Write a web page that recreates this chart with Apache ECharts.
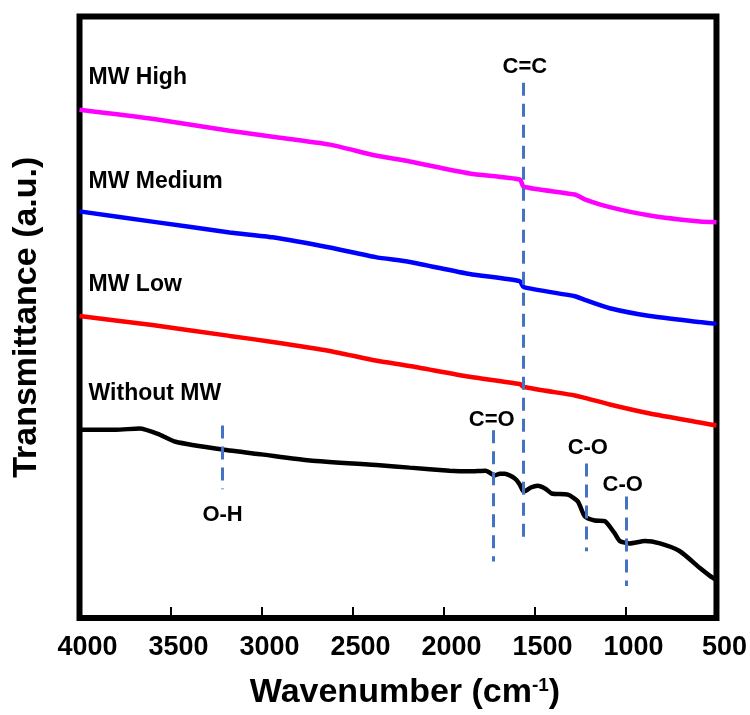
<!DOCTYPE html>
<html>
<head>
<meta charset="utf-8">
<script src="https://cdn.jsdelivr.net/npm/echarts@6/dist/echarts.min.js"></script>
<style>
  html, body { margin: 0; padding: 0; background: #fff; }
  #chart { width: 750px; height: 715px; }
</style>
</head>
<body>
<div id="chart"></div>
<script>
// wavenumber grid (cm-1) shared by the three MW spectra
const colorWn = [4000, 3600, 3175, 2939, 2625, 2373, 2186, 1856, 1581, 1559, 1278, 1224, 1086, 866, 591, 500];
const mwHigh = [84.5, 83.0, 81.0, 80.0, 78.7, 76.9, 75.9, 73.9, 72.9, 71.7, 70.4, 69.6, 68.3, 66.9, 65.9, 65.8];
const mwMedium = [67.6, 65.9, 64.1, 63.3, 61.6, 60.0, 59.2, 57.2, 56.0, 55.0, 53.5, 52.9, 51.5, 50.2, 49.2, 48.9];
const mwLow = [50.2, 48.7, 46.9, 45.9, 44.4, 42.8, 41.9, 40.1, 38.9, 38.4, 37.0, 36.6, 35.5, 34.0, 32.5, 32.0];

// spectrum without MW
const bareWn = [4000, 3800, 3670, 3560, 3472, 3214, 3000, 2735, 2351, 2186, 1966, 1856, 1768, 1718, 1690, 1663, 1608, 1581, 1559, 1520, 1482, 1440, 1405, 1317, 1262, 1224, 1169, 1114, 1060, 1031, 976, 894, 811, 701, 591, 536, 500];
const withoutMw = [31.3, 31.3, 31.5, 30.5, 29.3, 28.0, 27.2, 26.2, 25.4, 25.0, 24.5, 24.4, 24.5, 23.7, 24.0, 24.0, 23.2, 22.2, 21.0, 21.7, 22.0, 21.5, 20.7, 20.5, 19.4, 16.9, 16.2, 16.1, 14.1, 12.8, 12.4, 12.8, 12.4, 11.1, 8.3, 7.0, 6.3];

// band assignments (dashed guides)
const bandNames = ['O-H', 'C=O', 'C=C', 'C-O', 'C-O'];
const bandWn = [3214, 1729, 1559, 1218, 998];
const bandTop = [32.0, 31.2, 89.0, 25.7, 20.2];
const bandBottom = [21.4, 9.4, 12.8, 11.1, 5.3];
const bandLabelWn = [3214, 1735, 1553, 1207, 1015];
const bandLabelT = [17.1, 33.0, 91.6, 28.3, 22.2];

// curve names written inside the plot
const seriesNames = ['MW High', 'MW Medium', 'MW Low', 'Without MW'];
const nameLabelWn = [3950, 3950, 3950, 3950];
const nameLabelT = [89.8, 72.6, 55.5, 37.3];

const xTicks = [500, 4000, 500]; // min, max, interval

const font = 'Arial, "Liberation Sans", sans-serif';
const zip = (xs, ys) => xs.map((x, i) => [x, ys[i]]);

const chart = echarts.init(document.getElementById('chart'));

function lineSeries(name, data, color) {
    return {
        name: name,
        type: 'line',
        data: data,
        showSymbol: false,
        smooth: 0.2,
        lineStyle: { color: color, width: 4.5 },
        z: 3
    };
}

function textSeries(name, data, label) {
    return {
        name: name,
        type: 'scatter',
        symbolSize: 0,
        silent: true,
        itemStyle: { opacity: 1 },
        data: data,
        label: Object.assign({
            show: true,
            formatter: p => p.name,
            fontFamily: font,
            fontWeight: 'bold',
            color: '#000',
            opacity: 1
        }, label),
        z: 5
    };
}

chart.setOption({
    animation: false,
    backgroundColor: '#fff',
    grid: {
        left: 79.5,
        right: 33.5,
        top: 16.5,
        bottom: 95,
        show: true,
        borderColor: '#000',
        borderWidth: 6,
        backgroundColor: 'transparent'
    },
    xAxis: {
        type: 'value',
        inverse: true,
        min: xTicks[0],
        max: xTicks[1],
        interval: xTicks[2],
        name: 'Wavenumber (cm{sup|-1})',
        nameLocation: 'middle',
        nameGap: 58,
        nameTextStyle: {
            fontFamily: font,
            fontWeight: 'bold',
            fontSize: 34,
            color: '#000',
            padding: [0, 0, 0, 14],
            rich: {
                sup: { fontFamily: font, fontWeight: 'bold', fontSize: 19, color: '#000', verticalAlign: 'top', padding: [0, 0, 12, 0] }
            }
        },
        axisLine: { show: false },
        axisTick: { show: true, inside: true, length: 11, lineStyle: { color: '#000', width: 2 } },
        axisLabel: {
            fontFamily: font,
            fontWeight: 'bold',
            fontSize: 27,
            color: '#000',
            margin: 16,
            padding: [0, 0, 0, 16],
            formatter: v => String(v)
        },
        splitLine: { show: false }
    },
    yAxis: {
        type: 'value',
        min: 0,
        max: 100,
        name: 'Transmittance (a.u.)',
        nameLocation: 'middle',
        nameGap: 36,
        nameTextStyle: { fontFamily: font, fontWeight: 'bold', fontSize: 34, color: '#000' },
        axisLine: { show: false },
        axisTick: { show: false },
        axisLabel: { show: false },
        splitLine: { show: false }
    },
    series: [
        lineSeries('MW High', zip(colorWn, mwHigh), '#FF00FF'),
        lineSeries('MW Medium', zip(colorWn, mwMedium), '#0000FF'),
        lineSeries('MW Low', zip(colorWn, mwLow), '#FF0000'),
        Object.assign(lineSeries('Without MW', zip(bareWn, withoutMw), '#000000'), {
            markLine: {
                silent: true,
                symbol: ['none', 'none'],
                label: { show: false },
                lineStyle: { color: '#4472C4', width: 3, type: [13, 8] },
                data: bandWn.map((w, i) => [{ coord: [w, bandTop[i]] }, { coord: [w, bandBottom[i]] }])
            }
        }),
        textSeries('bands',
            bandNames.map((n, i) => ({ name: n, value: [bandLabelWn[i], bandLabelT[i]] })),
            { position: 'inside', fontSize: 22 }),
        textSeries('names',
            seriesNames.map((n, i) => ({ name: n, value: [nameLabelWn[i], nameLabelT[i]] })),
            { position: 'right', distance: 0, fontSize: 23 })
    ]
});
</script>
</body>
</html>
